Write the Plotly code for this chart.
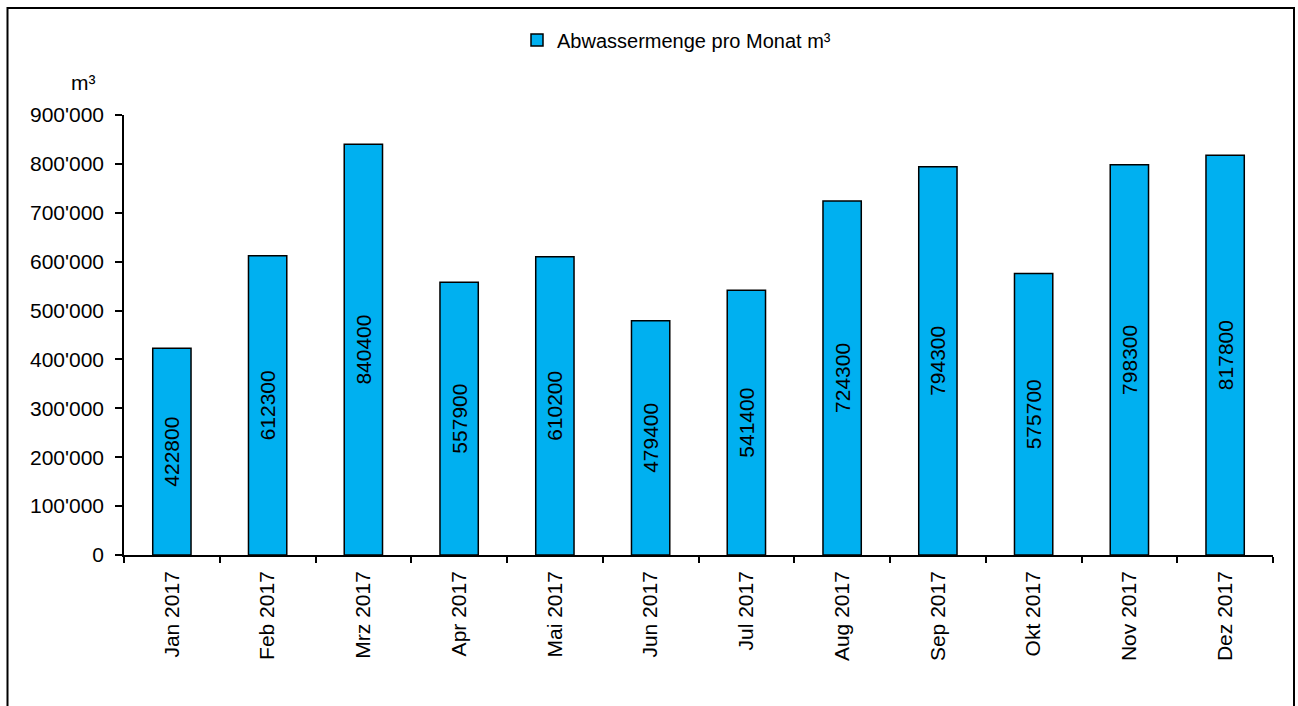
import plotly.graph_objects as go

# Monthly wastewater volume 2017
months = ["Jan 2017", "Feb 2017", "Mrz 2017", "Apr 2017", "Mai 2017", "Jun 2017",
          "Jul 2017", "Aug 2017", "Sep 2017", "Okt 2017", "Nov 2017", "Dez 2017"]
volumes = [422800, 612300, 840400, 557900, 610200, 479400,
           541400, 724300, 794300, 575700, 798300, 817800]
series_name = "Abwassermenge pro Monat m³"
y_ticks = [0, 100000, 200000, 300000, 400000, 500000, 600000, 700000, 800000, 900000]

W, H = 1298, 706
L, R, T, B = 124, 25, 115, 151
FONT = "Liberation Sans, Arial, sans-serif"


def px_x(p):
    return (p - L) / (W - L - R)


def px_y(p):
    return (H - B - p) / (H - T - B)


fig = go.Figure()
fig.add_trace(go.Bar(
    x=months,
    y=volumes,
    name=series_name,
    text=[str(v) for v in volumes],
    textposition="inside",
    insidetextanchor="middle",
    textangle=-90,
    textfont=dict(size=21, color="black", family=FONT),
    marker=dict(color="#00B0F0", line=dict(color="black", width=1.5)),
    showlegend=True,
))

fig.update_layout(
    width=W, height=H,
    margin=dict(l=L, r=R, t=T, b=B),
    paper_bgcolor="white",
    plot_bgcolor="white",
    separators=".'",
    font=dict(family=FONT, size=21, color="black"),
    bargap=0.6,
    showlegend=True,
    legend=dict(
        orientation="h",
        x=px_x(517), xanchor="left",
        y=px_y(40), yanchor="middle",
        font=dict(size=20),
        bgcolor="rgba(0,0,0,0)",
    ),
    xaxis=dict(
        type="category",
        showline=True, linecolor="black", linewidth=1.5,
        ticks="outside", tickson="boundaries", ticklen=6, tickcolor="black", tickwidth=1.5,
        tickangle=-90,
        ticklabelstandoff=6,
        showgrid=False, zeroline=False,
        tickfont=dict(size=21),
    ),
    yaxis=dict(
        range=[0, 900000],
        tickvals=y_ticks,
        tickformat=",d",
        showline=True, linecolor="black", linewidth=1.5,
        ticks="outside", ticklen=7, tickcolor="black", tickwidth=1.5,
        ticklabelstandoff=7,
        showgrid=False, zeroline=False,
        tickfont=dict(size=21),
    ),
    shapes=[dict(
        type="rect", xref="paper", yref="paper",
        x0=px_x(7.5), x1=px_x(1294), y0=px_y(720), y1=px_y(8),
        line=dict(color="black", width=2), fillcolor="rgba(0,0,0,0)",
        layer="below",
    )],
    annotations=[dict(
        text="m³", xref="paper", yref="paper",
        x=px_x(83), y=px_y(82), xanchor="center", yanchor="middle",
        showarrow=False, font=dict(size=21),
    )],
)

fig.write_html("out.html")
